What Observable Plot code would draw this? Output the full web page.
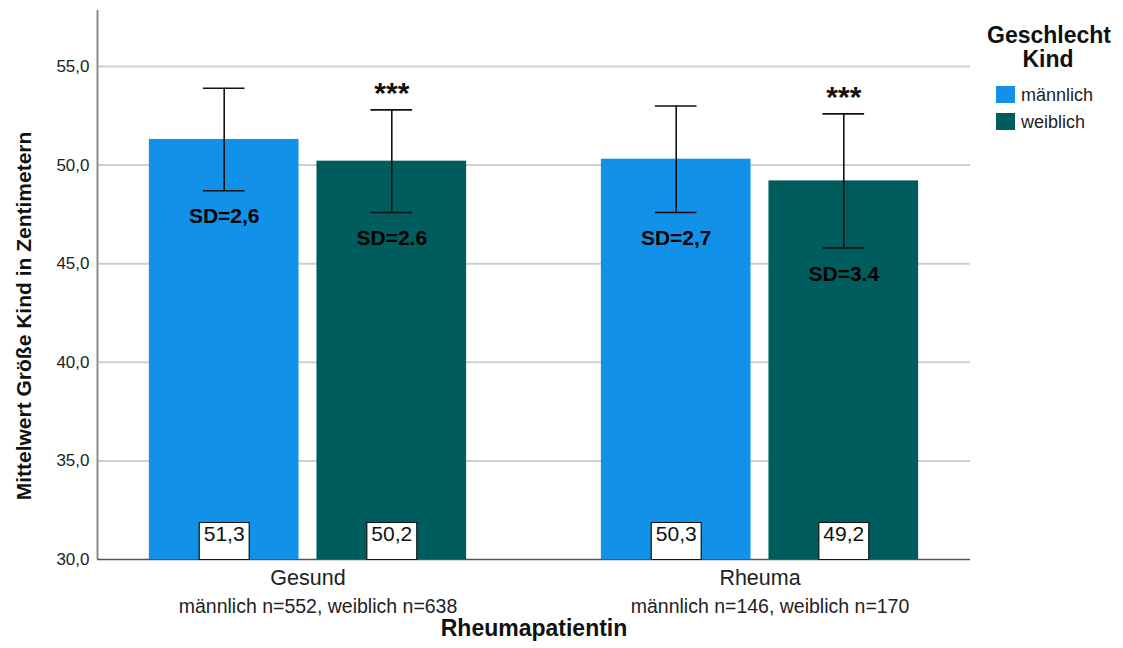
<!DOCTYPE html>
<html>
<head>
<meta charset="utf-8">
<script src="https://cdn.jsdelivr.net/npm/d3@7"></script>
<script src="https://cdn.jsdelivr.net/npm/@observablehq/plot@0.6"></script>
<style>
  body { margin: 0; background: #fff; }
  #wrap { position: relative; width: 1123px; height: 648px; }
  #wrap svg { position: absolute; left: 0; top: 0; }
</style>
</head>
<body>
<div id="wrap"></div>
<script>
// Mean body length of the child (cm) by maternal group and sex of the child
const groups = ["Gesund", "Rheuma"];
const sexes = ["männlich", "weiblich"];
const means = [[51.3, 50.2], [50.3, 49.2]];
const sds = [[2.6, 2.6], [2.7, 3.4]];
const sdLabels = [["SD=2,6", "SD=2.6"], ["SD=2,7", "SD=3.4"]];
const stars = [["", "***"], ["", "***"]];
const counts = [[552, 638], [146, 170]];
const colors = ["#1192e8", "#005d5d"];
const yTicks = [30, 35, 40, 45, 50, 55];

const FONT = "'Liberation Sans', Arial, sans-serif";
const fmt = v => v.toFixed(1).replace(".", ",");

const rows = groups.flatMap((g, i) => sexes.map((s, j) => ({
  group: g, sex: s, mean: means[i][j], sd: sds[i][j],
  sdLabel: sdLabels[i][j], star: stars[i][j]
})));
const nLabels = groups.map((g, i) => sexes.map((s, j) => `${s} n=${counts[i][j]}`).join(", "));

const frame = {
  width: 1123, height: 648,
  marginLeft: 97, marginRight: 153, marginTop: 10, marginBottom: 89
};
const yScale = { domain: [30, 57.84], axis: null };

// Background layer: grid, value axis, axis lines and titles across the full frame
const back = Plot.plot({
  ...frame,
  style: { fontFamily: FONT, background: "#fff", overflow: "visible" },
  x: { domain: [0, 1], axis: null },
  y: yScale,
  marks: [
    Plot.ruleY(yTicks.filter(v => v > 30), { stroke: "#cfcfcf", strokeWidth: 2 }),
    Plot.axisY(yTicks, {
      tickSize: 0, tickPadding: 8, fontSize: 17, fill: "#222",
      tickFormat: fmt, label: null
    }),
    Plot.ruleX([0], { stroke: "#8c8c8c", strokeWidth: 2 }),
    Plot.ruleY([30], { stroke: "#555", strokeWidth: 1.5 }),
    Plot.text(["Rheumapatientin"], {
      frameAnchor: "bottom", dy: 76, fontSize: 23, fontWeight: "bold", fill: "#111"
    }),
    Plot.text(["Mittelwert Größe Kind in Zentimetern"], {
      frameAnchor: "left", textAnchor: "middle", dx: -73, dy: 31, rotate: -90,
      fontSize: 21, fontWeight: "bold", fill: "#111"
    })
  ]
});

// Box behind the value labels at the foot of each bar
const labelBox = { draw(ctx) { ctx.rect(-25, -18.5, 50, 37); } };

// Foreground layer: grouped bars faceted by maternal group
const front = Plot.plot({
  ...frame,
  style: { fontFamily: FONT, background: "none", overflow: "visible" },
  fx: { domain: groups, paddingInner: 0.0686, paddingOuter: 0, round: false, axis: null },
  x: { domain: sexes, paddingInner: 0.107, paddingOuter: 0.3095, round: false, axis: null },
  y: yScale,
  color: { domain: sexes, range: colors },
  marks: [
    Plot.barY(rows, { fx: "group", x: "sex", y1: 30, y2: "mean", fill: "sex" }),
    Plot.ruleX(rows, {
      fx: "group", x: "sex", y1: d => d.mean - d.sd, y2: d => d.mean + d.sd,
      stroke: "#111", strokeWidth: 1.6
    }),
    Plot.tickY(rows, {
      fx: "group", x: "sex", y: d => d.mean + d.sd,
      insetLeft: 54, insetRight: 54, stroke: "#111", strokeWidth: 1.6
    }),
    Plot.tickY(rows, {
      fx: "group", x: "sex", y: d => d.mean - d.sd,
      insetLeft: 54, insetRight: 54, stroke: "#111", strokeWidth: 1.6
    }),
    Plot.text(rows, {
      fx: "group", x: "sex", y: d => d.mean + d.sd, dy: -16,
      text: "star", fontSize: 30, fontWeight: "bold", fill: "#111"
    }),
    Plot.text(rows, {
      fx: "group", x: "sex", y: d => d.mean - d.sd, dy: 26,
      text: "sdLabel", fontSize: 21, fontWeight: "bold", fill: "#000"
    }),
    Plot.dot(rows, {
      fx: "group", x: "sex", frameAnchor: "bottom", dy: -18.5,
      symbol: labelBox, r: 5, fill: "#fff", stroke: "#111", strokeWidth: 1.2
    }),
    Plot.text(rows, {
      fx: "group", x: "sex", frameAnchor: "bottom", dy: -19,
      text: d => fmt(d.mean), fontSize: 21, fill: "#111"
    }),
    Plot.text(groups, {
      fx: d => d, frameAnchor: "bottom", dy: 25,
      text: d => d, fontSize: 21.5, fill: "#222"
    }),
    Plot.text(groups, {
      fx: d => d, frameAnchor: "bottom", dy: 53, dx: 10,
      text: (d, i) => nLabels[i], fontSize: 19.5, fill: "#222"
    })
  ]
});

// Legend for the sex of the child
const lg = d3.select(front).append("g")
  .attr("font-family", FONT).attr("fill", "#111").attr("text-anchor", "start");
lg.append("text").attr("x", 1049).attr("y", 35).attr("dy", "0.35em")
  .attr("text-anchor", "middle").attr("font-size", 23).attr("font-weight", "bold")
  .text("Geschlecht");
lg.append("text").attr("x", 1048).attr("y", 59).attr("dy", "0.35em")
  .attr("text-anchor", "middle").attr("font-size", 23).attr("font-weight", "bold")
  .text("Kind");
sexes.forEach((s, i) => {
  lg.append("rect").attr("x", 996).attr("y", 86 + i * 27)
    .attr("width", 19).attr("height", 17).attr("fill", colors[i]);
  lg.append("text").attr("x", 1021).attr("y", 95 + i * 27).attr("dy", "0.35em")
    .attr("text-anchor", "start").attr("font-size", 18).attr("fill", "#222").text(s);
});

const wrap = document.getElementById("wrap");
wrap.append(back);
wrap.append(front);
</script>
</body>
</html>
